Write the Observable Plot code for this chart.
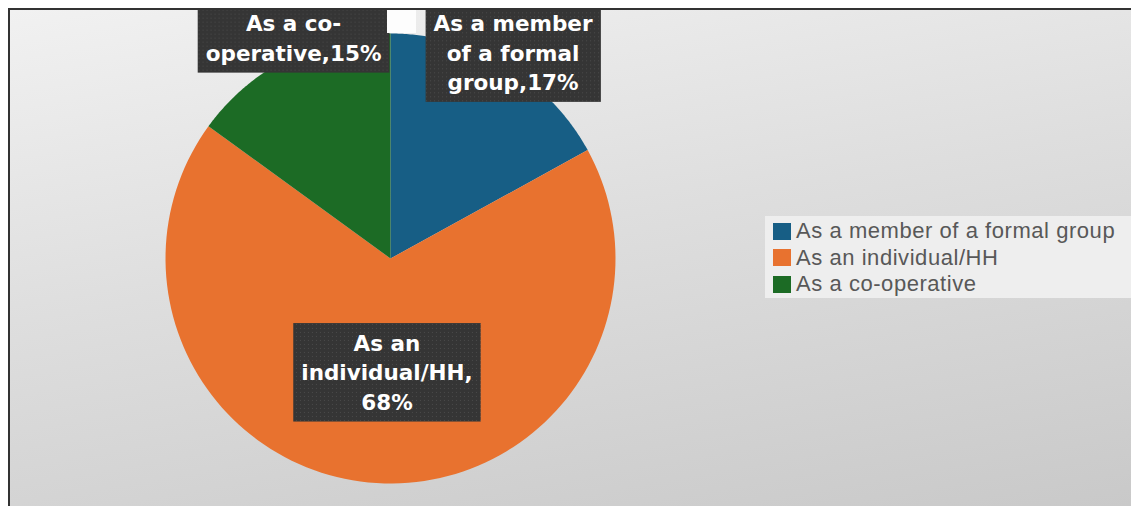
<!DOCTYPE html>
<html>
<head>
<meta charset="utf-8">
<script src="https://cdn.jsdelivr.net/npm/d3@7"></script>
<script src="https://cdn.jsdelivr.net/npm/@observablehq/plot@0.6"></script>
<style>
  html, body { margin: 0; padding: 0; background: #fff; width: 1131px; height: 506px; overflow: hidden; }
  #frame { position: absolute; left: 8px; top: 8px; width: 1123px; height: 498px;
    border-top: 2px solid #333; border-left: 2px solid #333; box-sizing: border-box; overflow: hidden;
    background: linear-gradient(170deg, #f1f1f1 0%, #dedede 45%, #c9c9c9 100%); }
  #chart { position: absolute; left: -10px; top: -10px; }
  #patch { position: absolute; left: 377px; top: 0px; width: 29px; height: 23px; background: #fdfdfd; }
  #legend { position: absolute; left: 755px; top: 206px; width: 380px; height: 82px; box-sizing: border-box;
    padding: 2px 0 0 8px; background: #eeeeee; }
  .row { display: flex; align-items: center; height: 26.5px; }
  .sw { width: 18px; height: 17px; margin-right: 5px; flex: none; }
  .lt { font-family: "Liberation Sans", Arial, sans-serif; font-size: 22px; color: #585858; letter-spacing: 0.55px; white-space: nowrap; }
</style>
</head>
<body>
<div id="frame">
  <div id="chart"></div>
  <div id="patch"></div>
  <div id="legend"></div>
</div>
<script>
// ---- data ----
const categories = ["As a member of a formal group", "As an individual/HH", "As a co-operative"];
const shares = [17, 68, 15];
const labelLines = ["As a member\nof a formal\ngroup,17%", "As an\nindividual/HH,\n68%", "As a co-\noperative,15%"];
const colors = ["#175e85", "#e8722f", "#1c6b25"];

// ---- label layout (radius as fraction of pie radius, angle nudge in degrees) ----
const labelRadius = [1.07, 0.5, 1.076];
const labelNudge = [0, -1.8, 3.4];

const arcs = d3.pie().sort(null).value(d => d)(shares);

const slicePts = [];
arcs.forEach((a, i) => {
  const cat = categories[i];
  slicePts.push({cat, x: 0, y: 0});
  const n = 120;
  for (let k = 0; k <= n; k++) {
    const t = a.startAngle + (a.endAngle - a.startAngle) * k / n;
    slicePts.push({cat, x: Math.sin(t), y: Math.cos(t)});
  }
  slicePts.push({cat, x: 0, y: 0});
});

const labels = arcs.map((a, i) => {
  const t = (a.startAngle + a.endAngle) / 2 + labelNudge[i] * Math.PI / 180;
  return {text: labelLines[i], x: labelRadius[i] * Math.sin(t), y: labelRadius[i] * Math.cos(t)};
});

const plot = Plot.plot({
  width: 1131,
  height: 506,
  marginLeft: 165,
  marginRight: 516,
  marginTop: 33,
  marginBottom: 23,
  x: {domain: [-1, 1], axis: null},
  y: {domain: [-1, 1], axis: null},
  color: {domain: categories, range: colors},
  style: {background: "transparent", overflow: "visible"},
  marks: [
    Plot.line(slicePts, {x: "x", y: "y", z: "cat", fill: "cat", stroke: "none"}),
    Plot.text(labels, {x: "x", y: "y", text: "text", fill: "white", fontSize: 21.5, fontWeight: "bold",
      fontFamily: "DejaVu Sans", lineHeight: 1.36, textAnchor: "middle", lineAnchor: "middle"})
  ]
});
document.getElementById("chart").appendChild(plot);

// dotted dark boxes behind labels
const ns = "http://www.w3.org/2000/svg";
const defs = document.createElementNS(ns, "defs");
defs.innerHTML = '<pattern id="dots" width="4" height="4" patternUnits="userSpaceOnUse">' +
  '<rect width="4" height="4" fill="#353535"/><rect x="1" y="1" width="1" height="1" fill="#4a4a4a"/></pattern>';
plot.insertBefore(defs, plot.firstChild);
plot.querySelectorAll('g[aria-label="text"] text').forEach(t => {
  const b = t.getBBox();
  const r = document.createElementNS(ns, "rect");
  r.setAttribute("x", b.x - 8);
  r.setAttribute("y", b.y - 8);
  r.setAttribute("width", b.width + 16);
  r.setAttribute("height", b.height + 15);
  r.setAttribute("fill", "url(#dots)");
  if (t.getAttribute("transform")) r.setAttribute("transform", t.getAttribute("transform"));
  t.parentNode.insertBefore(r, t);
});

// legend
const leg = document.getElementById("legend");
categories.forEach((c, i) => {
  const row = document.createElement("div");
  row.className = "row";
  row.innerHTML = `<div class="sw" style="background:${colors[i]}"></div><span class="lt">${c}</span>`;
  leg.appendChild(row);
});
</script>
</body>
</html>
